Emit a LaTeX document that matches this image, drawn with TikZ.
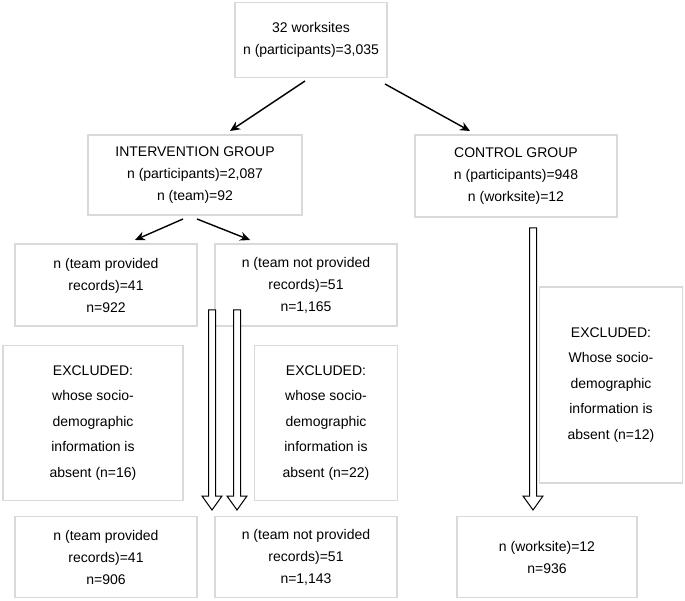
\documentclass[tikz,border=0pt]{standalone}
\usepackage{fontspec}
\setmainfont{Liberation Sans}
\usetikzlibrary{arrows.meta}
\begin{document}
\begin{tikzpicture}[x=1pt,y=-1pt,
  box/.style={draw=black!15,line width=1.2pt,align=center,inner sep=0pt,font=\fontsize{14}{22}\selectfont},
  exbox/.style={box,font=\fontsize{14}{25.5}\selectfont},
  arr/.style={-{Stealth[length=10pt,width=9pt]},line width=1.4pt},
  hollow/.style={line width=1pt,fill=white}]
\useasboundingbox (0,0) rectangle (685,601);
\node[box,minimum width=152pt,minimum height=75pt] (top) at (311,40) {32 worksites\\n (participants)=3,035};
\node[box,minimum width=214pt,minimum height=80pt] (int) at (195,175) {INTERVENTION GROUP\\n (participants)=2,087\\n (team)=92};
\node[box,minimum width=202pt,minimum height=82pt] (ctl) at (516,176) {CONTROL GROUP\\n (participants)=948\\n (worksite)=12};
\node[box,minimum width=182pt,minimum height=82pt] (tp) at (106,285) {n (team provided\\records)=41\\n=922};
\node[box,minimum width=182pt,minimum height=82pt] (tnp) at (306,285) {n (team not provided\\records)=51\\n=1,165};
\node[exbox,minimum width=180pt,minimum height=155pt] (exL) at (93,423) {EXCLUDED:\\whose socio-\\demographic\\information is\\absent (n=16)};
\node[exbox,minimum width=143pt,minimum height=155pt] (exM) at (326,423) {EXCLUDED:\\whose socio-\\demographic\\information is\\absent (n=22)};
\node[exbox,minimum width=143pt,minimum height=196pt] (exR) at (611,385) {EXCLUDED:\\Whose socio-\\demographic\\information is\\absent (n=12)};
\node[box,minimum width=182pt,minimum height=81pt] (bL) at (106,557) {n (team provided\\records)=41\\n=906};
\node[box,minimum width=182pt,minimum height=81pt] (bM) at (306,557) {n (team not provided\\records)=51\\n=1,143};
\node[box,minimum width=180pt,minimum height=81pt] (bR) at (547,557) {n (worksite)=12\\n=936};
% arrows
\coordinate (a1s) at (305,81); \coordinate (a1e) at (230,131);
\coordinate (a2s) at (385,84); \coordinate (a2e) at (470,131);
\coordinate (a3s) at (183,219); \coordinate (a3e) at (135,240);
\coordinate (a4s) at (197,219); \coordinate (a4e) at (250,240);
\draw[arr] (a1s) -- (a1e);
\draw[arr] (a2s) -- (a2e);
\draw[arr] (a3s) -- (a3e);
\draw[arr] (a4s) -- (a4e);
% hollow arrows
\foreach \x/\t/\n in {212/310/hL,237/310/hM,533/228/hR}{
  \coordinate (\n) at (\x,\t);
  \draw[hollow] (\x-3.5,\t) -- (\x-3.5,496) -- (\x-10,496) -- (\x,510) -- (\x+10,496) -- (\x+3.5,496) -- (\x+3.5,\t) -- cycle;
}
\end{tikzpicture}
\end{document}
